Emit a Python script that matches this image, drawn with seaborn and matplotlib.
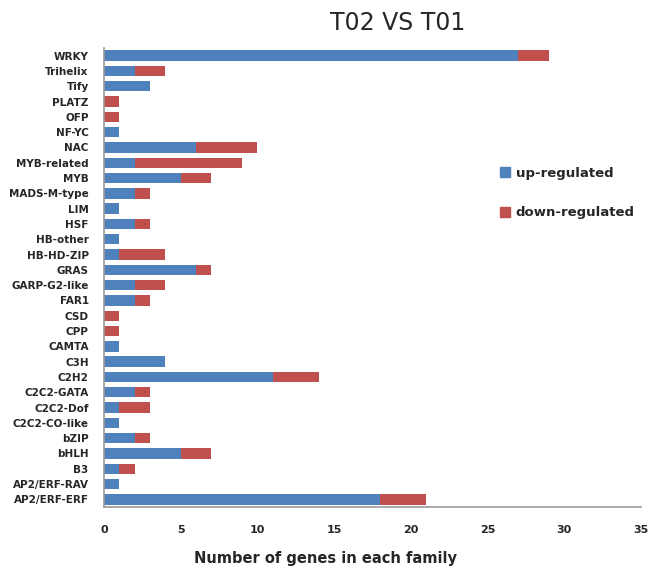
import matplotlib
matplotlib.use("Agg")
import matplotlib.pyplot as plt
import seaborn as sns
import pandas as pd
from matplotlib.patches import Patch

# gene families, top to bottom as in the chart
families = ["WRKY", "Trihelix", "Tify", "PLATZ", "OFP", "NF-YC", "NAC",
            "MYB-related", "MYB", "MADS-M-type", "LIM", "HSF", "HB-other",
            "HB-HD-ZIP", "GRAS", "GARP-G2-like", "FAR1", "CSD", "CPP", "CAMTA",
            "C3H", "C2H2", "C2C2-GATA", "C2C2-Dof", "C2C2-CO-like", "bZIP",
            "bHLH", "B3", "AP2/ERF-RAV", "AP2/ERF-ERF"]
up_regulated = [27, 2, 3, 0, 0, 1, 6, 2, 5, 2, 1, 2, 1, 1, 6, 2, 2, 0, 0, 1,
                4, 11, 2, 1, 1, 2, 5, 1, 1, 18]
down_regulated = [2, 2, 0, 1, 1, 0, 4, 7, 2, 1, 0, 1, 0, 3, 1, 2, 1, 1, 1, 0,
                  0, 3, 1, 2, 0, 1, 2, 1, 0, 3]
x_ticks = [0, 5, 10, 15, 20, 25, 30, 35]

df = pd.DataFrame({"family": families, "up": up_regulated, "down": down_regulated})
df["total"] = df["up"] + df["down"]

blue = "#4F81BD"
red = "#C0504D"

sns.set_style("white")
fig = plt.figure(figsize=(6.51, 5.70), dpi=100)
ax = fig.add_axes([104 / 651, 1 - 507 / 570, (641 - 104) / 651, (507 - 48) / 570])

# stacked: draw totals in red, then up-regulated on top in blue
sns.barplot(data=df, x="total", y="family", color=red, width=0.68,
            saturation=1, ax=ax, orient="h", linewidth=0)
sns.barplot(data=df, x="up", y="family", color=blue, width=0.68,
            saturation=1, ax=ax, orient="h", linewidth=0)

ax.set_xlim(0, 35)
ax.set_ylim(len(families) - 0.5, -0.5)
ax.set_xticks(x_ticks)
ax.set_xticklabels([str(t) for t in x_ticks], fontsize=8, fontweight="bold")
ax.tick_params(axis="x", length=0, pad=13)
ax.tick_params(axis="y", length=0, pad=11)
for lbl in ax.get_yticklabels():
    lbl.set_fontsize(7.5)
    lbl.set_fontweight("bold")
ax.set_xlabel("")
ax.set_ylabel("")

for side in ["top", "right"]:
    ax.spines[side].set_visible(False)
ax.spines["left"].set_color("#9a9a9a")
ax.spines["bottom"].set_color("#9a9a9a")
ax.spines["left"].set_linewidth(1.2)
ax.spines["bottom"].set_linewidth(1.2)

fig.text(398 / 651, 1 - 23 / 570, "T02 VS T01", ha="center", va="center",
         fontsize=17)
fig.text(325 / 651, 1 - 558 / 570, "Number of genes in each family",
         ha="center", va="center", fontsize=10.5, fontweight="bold")

handles = [Patch(color=blue, label="up-regulated"),
           Patch(color=red, label="down-regulated")]
fig.legend(handles=handles, loc="upper left",
           bbox_to_anchor=(488 / 651, 1 - 155 / 570), frameon=False,
           prop={"size": 9.5, "weight": "bold"}, handlelength=0.8,
           handleheight=0.8, handletextpad=0.4, labelspacing=2.0)

fig.savefig("out.png", dpi=100)
